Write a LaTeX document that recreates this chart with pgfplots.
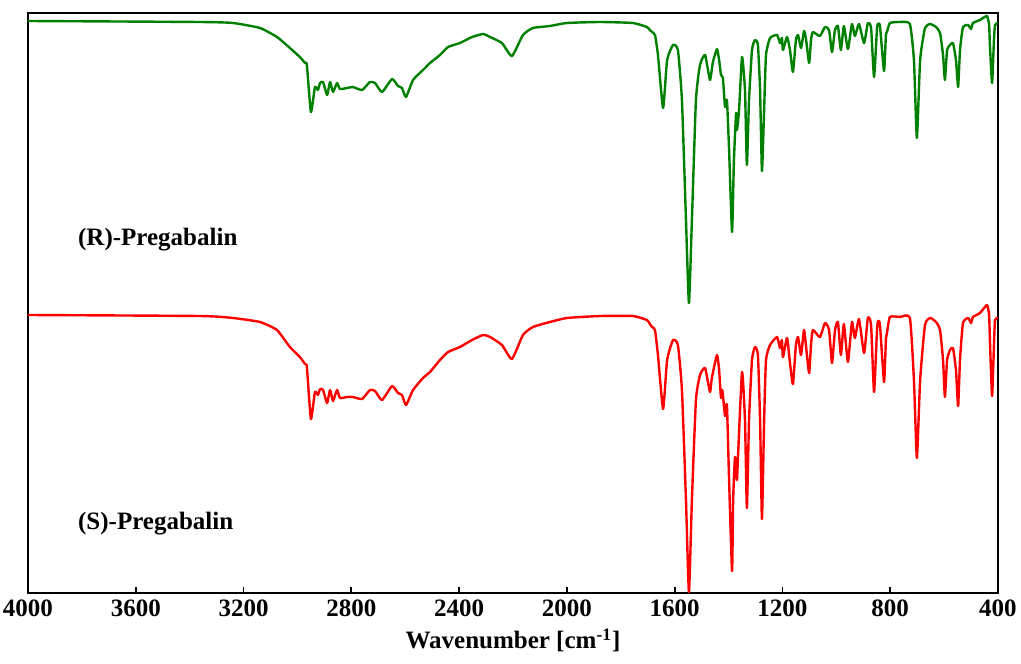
\documentclass[border=0pt]{standalone}
\usepackage{pgfplots}
\pgfplotsset{compat=1.18}
\usepackage{pgfplotstable}
\usepackage{fontspec}
\setmainfont{Liberation Serif}
\definecolor{spgreen}{RGB}{0,128,0}
\definecolor{spred}{RGB}{255,0,0}
\pgfplotstableread{
w y
4000 21
3362 22
3239 23
3139 28
3076 37
3028 48
2991 57
2972 63
2965 65
2950 112
2935 87
2924 90
2916 83
2905 82
2890 95
2879 82
2868 92
2853 83
2842 89
2816 88
2794 87
2760 90
2731 82
2712 83
2686 92
2649 79
2627 86
2612 88
2597 97
2571 80
2534 70
2508 63
2471 55
2441 47
2397 43
2352 37
2311 34
2285 37
2241 43
2204 56
2163 35
2126 28
2063 26
2000 23
1877 22
1755 23
1703 27
1692 30
1684 32
1673 35
1662 55
1643 108
1628 60
1606 45
1588 50
1573 100
1558 220
1547 303
1536 220
1521 100
1506 65
1487 55
1469 80
1458 62
1443 49
1435 60
1428 75
1421 78
1413 107
1406 100
1398 150
1387 232
1380 160
1372 113
1369 130
1361 110
1350 57
1339 90
1332 165
1324 100
1313 50
1302 40
1291 45
1283 90
1276 171
1268 110
1261 55
1246 38
1220 35
1209 43
1202 38
1198 50
1183 37
1172 50
1161 72
1150 40
1142 35
1131 48
1120 31
1113 38
1101 63
1094 40
1087 32
1061 36
1042 27
1027 30
1016 52
1005 30
994 26
983 50
972 26
957 49
942 24
931 36
916 24
897 43
883 23
871 28
860 77
849 28
845 24
838 26
823 71
816 35
812 32
801 23
764 22
727 24
712 60
701 138
689 60
671 28
652 24
630 27
615 33
604 55
597 80
589 50
578 45
567 43
556 60
548 87
541 50
530 27
511 25
500 29
493 23
467 20
441 16
433 25
430 45
422 83
415 40
411 25
400 23
}\greendata
\pgfplotstableread{
w y
4000 315
3362 316
3239 318
3139 322
3076 330
3028 347
2991 357
2972 364
2965 367
2950 419
2935 392
2924 395
2916 389
2905 390
2890 403
2879 390
2868 401
2853 390
2842 398
2816 397
2794 397
2760 399
2731 390
2712 391
2686 400
2649 386
2627 393
2612 395
2597 405
2571 390
2534 378
2508 372
2471 360
2441 352
2397 347
2352 340
2311 335
2285 337
2241 345
2204 359
2163 335
2126 327
2063 322
2000 318
1877 316
1755 316
1703 320
1692 324
1684 327
1673 330
1662 355
1643 409
1628 360
1606 340
1588 345
1573 390
1558 500
1547 592
1536 500
1521 400
1506 375
1487 368
1469 392
1462 378
1443 355
1435 370
1428 398
1423 390
1413 416
1406 405
1398 480
1387 571
1383 500
1376 457
1369 480
1365 457
1350 372
1339 420
1332 508
1324 420
1313 360
1302 347
1291 355
1283 420
1276 519
1268 420
1261 360
1246 345
1220 337
1209 348
1202 340
1198 357
1183 338
1172 363
1161 384
1150 345
1142 337
1131 355
1120 330
1113 345
1101 373
1094 345
1087 330
1061 337
1042 323
1027 330
1016 363
1005 330
994 322
983 355
972 324
957 362
942 322
931 338
916 319
897 353
883 318
871 325
860 392
849 330
845 321
838 325
823 382
816 340
812 333
801 317
764 317
727 318
712 380
701 458
689 380
671 325
652 318
630 322
615 330
604 360
597 397
589 360
578 350
567 348
556 370
548 406
541 360
530 323
511 318
500 323
493 317
467 313
441 305
433 315
430 340
422 396
415 345
411 320
400 318
}\reddata
\begin{document}
\begin{tikzpicture}
\begin{axis}[
  scale only axis,
  width=485pt, height=290pt,
  x dir=reverse,
  y dir=reverse,
  xmin=400, xmax=4000,
  ymin=13, ymax=593,
  xtick={400,800,...,4000},
  ytick=\empty,
  xtick pos=bottom,
  tick align=inside,
  major tick length=3pt,
  axis line style={line width=1.3pt},
  every tick/.style={black, line width=0.9pt},
  ticklabel style={font=\fontsize{12.5}{14}\selectfont\bfseries},
  /pgf/number format/assume math mode=true,
  /pgf/number format/1000 sep={},
  xlabel={Wavenumber [cm\textsuperscript{-1}]},
  xlabel style={font=\fontsize{12.5}{14}\selectfont\bfseries, yshift=1pt},
  clip=true,
]
\addplot[spgreen, line width=1.2pt, line join=round, smooth, tension=0.3] table[x=w, y=y] {\greendata};
\addplot[spred, line width=1.2pt, line join=round, smooth, tension=0.3] table[x=w, y=y] {\reddata};
\node[anchor=west, font=\fontsize{12.5}{14}\selectfont\bfseries] at (axis cs:3840,240) {(R)-Pregabalin};
\node[anchor=west, font=\fontsize{12.5}{14}\selectfont\bfseries] at (axis cs:3840,524) {(S)-Pregabalin};
\end{axis}
\pgfresetboundingbox
\path[use as bounding box] ([xshift=-14pt,yshift=6.5pt]current axis.north west) rectangle ([xshift=11.5pt,yshift=-35pt]current axis.south east);
\end{tikzpicture}
\end{document}
